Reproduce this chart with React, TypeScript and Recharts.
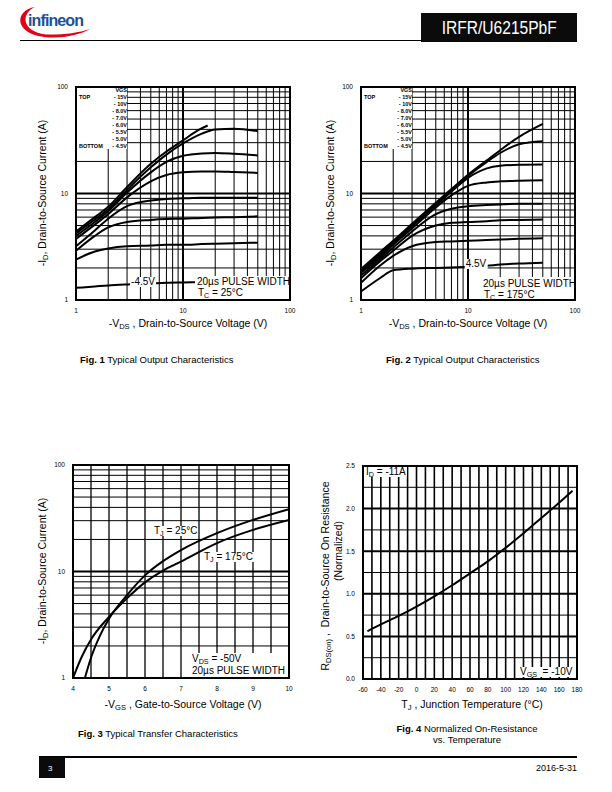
import React from "react";
import { LineChart, Line, XAxis, YAxis, ReferenceLine, ReferenceArea } from "recharts";

// Fig. 1 / Fig. 2 sample points of -VDS (V)
const vdsPoints = [1, 1.5, 2, 3, 5, 7, 10, 15, 20, 30, 50];
const vdsShort = [1, 1.5, 2, 3, 5, 7, 10, 14, 17];

// Fig. 1, Tc = 25°C, -ID (A) for each -VGS
const fig1Id15 = [4.4, 6.0, 7.5, 11.5, 19.0, 24.8, 31.5, 39.5, 43.5];
const fig1Id10 = [4.2, 5.7, 7.1, 10.8, 17.6, 23.2, 29.5, 36.5, 40.0, 40.5, 38.5];
const fig1Id8 = [4.0, 5.4, 6.8, 10.2, 15.8, 19.8, 22.6, 23.8, 24.0, 23.6, 22.8];
const fig1Id7 = [3.75, 5.1, 6.4, 9.2, 13.0, 14.9, 15.8, 16.1, 16.1, 15.9, 15.6];
const fig1Id6 = [3.2, 4.5, 5.8, 7.6, 8.6, 8.9, 9.0, 9.1, 9.1, 9.1, 9.1];
const fig1Id55 = [2.9, 4.0, 4.8, 5.4, 5.65, 5.75, 5.8, 5.9, 5.95, 6.0, 6.1];
const fig1Id5 = [2.4, 2.85, 3.05, 3.2, 3.25, 3.3, 3.3, 3.35, 3.38, 3.42, 3.45];
const fig1Id45 = [1.3, 1.34, 1.37, 1.4, 1.43, 1.45, 1.46, 1.47, 1.48, 1.49, 1.5];

// Fig. 2, Tc = 175°C, -ID (A) for each -VGS
const fig2Id15 = [1.95, 2.8, 3.6, 5.2, 8.2, 11.0, 15.0, 20.5, 25.5, 34.0, 45.0];
const fig2Id10 = [1.9, 2.7, 3.5, 5.0, 7.9, 10.7, 14.6, 19.8, 24.0, 29.0, 31.0];
const fig2Id8 = [1.85, 2.6, 3.4, 4.9, 7.7, 10.4, 14.0, 17.2, 18.2, 18.6, 18.7];
const fig2Id7 = [1.8, 2.5, 3.3, 4.7, 7.4, 9.6, 11.8, 12.7, 13.0, 13.2, 13.3];
const fig2Id6 = [1.7, 2.4, 3.1, 4.4, 6.4, 7.2, 7.6, 7.8, 7.9, 8.0, 8.0];
const fig2Id55 = [1.6, 2.3, 2.9, 4.0, 5.0, 5.3, 5.4, 5.5, 5.6, 5.65, 5.7];
const fig2Id5 = [1.45, 2.1, 2.6, 3.2, 3.5, 3.55, 3.6, 3.65, 3.7, 3.75, 3.8];
const fig2Id45 = [1.2, 1.6, 1.9, 1.97, 2.0, 2.02, 2.05, 2.1, 2.15, 2.2, 2.24];

// Fig. 3, transfer characteristics
const vgs25 = [4.33, 4.5, 4.75, 5, 5.5, 6, 6.5, 7, 8, 9, 10];
const idTj25 = [1.0, 1.55, 2.5, 3.6, 6.0, 9.2, 12.5, 15.9, 22.9, 30.5, 38.5];
const vgs175 = [4, 4.25, 4.5, 5, 5.5, 6, 6.5, 7, 8, 9, 10];
const idTj175 = [1.0, 1.6, 2.3, 3.75, 5.6, 7.9, 10.2, 12.4, 18.5, 24.6, 30.5];

// Fig. 4, normalized RDS(on) vs TJ
const tj = [-55, -40, -20, 0, 20, 40, 60, 80, 100, 120, 140, 160, 175];
const rdsNorm = [0.56, 0.64, 0.74, 0.85, 0.97, 1.1, 1.24, 1.38, 1.54, 1.71, 1.89, 2.07, 2.21];

// axes
const logTicks = [1, 10, 100];
const logMinor = [2, 3, 4, 5, 6, 7, 8, 9, 20, 30, 40, 50, 60, 70, 80, 90];
const logMajor = [10];
const vgsTicks = [4, 5, 6, 7, 8, 9, 10];
const vgsGrid = [4.5, 5, 5.5, 6, 6.5, 7, 7.5, 8, 8.5, 9, 9.5];
const tjTicks = [-60, -40, -20, 0, 20, 40, 60, 80, 100, 120, 140, 160, 180];
const tjGrid = [-50, -40, -30, -20, -10, 0, 10, 20, 30, 40, 50, 60, 70, 80, 90, 100, 110, 120, 130, 140, 150, 160, 170];
const rTicks = [0, 0.5, 1, 1.5, 2, 2.5];
const rMinor = [0.25, 0.75, 1.25, 1.75, 2.25];
const rMajor = [0.5, 1, 1.5, 2];

const vgsLegend = ["VGS", "- 15V", "- 10V", "- 8.0V", "- 7.0V", "- 6.0V", "- 5.5V", "- 5.0V", "- 4.5V"];

const pts = (xs: number[], ys: number[]) => xs.map((x, i) => ({ x, y: ys[i] }));

const fig1Curves = [
  pts(vdsShort, fig1Id15),
  pts(vdsPoints, fig1Id10),
  pts(vdsPoints, fig1Id8),
  pts(vdsPoints, fig1Id7),
  pts(vdsPoints, fig1Id6),
  pts(vdsPoints, fig1Id55),
  pts(vdsPoints, fig1Id5),
  pts(vdsPoints, fig1Id45),
];
const fig2Curves = [fig2Id15, fig2Id10, fig2Id8, fig2Id7, fig2Id6, fig2Id55, fig2Id5, fig2Id45].map((ys) => pts(vdsPoints, ys));
const fig3Curves = [pts(vgs25, idTj25), pts(vgs175, idTj175)];
const fig4Curves = [pts(tj, rdsNorm)];

const FONT = '"Liberation Sans", Arial, Helvetica, sans-serif';

type AxisSpec = {
  scale: "log" | "linear";
  domain: [number, number];
  ticks: number[];
  minor: number[];
  major: number[];
  minorWidth?: number;
  fmt?: (v: number) => string;
};

function Plot({ x0, y0, x1, y1, xs, ys, curves }: { x0: number; y0: number; x1: number; y1: number; xs: AxisSpec; ys: AxisSpec; curves: { x: number; y: number }[][] }) {
  const padL = 40, padT = 10, padR = 10, padB = 30, yw = 30, xh = 20;
  const tick = { fontSize: 6.5, fill: "#000", fontFamily: FONT };
  return (
    <div style={{ position: "absolute", left: x0 - padL, top: y0 - padT }}>
      <LineChart
        width={x1 - x0 + padL + padR}
        height={y1 - y0 + padT + padB}
        margin={{ top: padT, right: padR, bottom: padB - xh, left: padL - yw }}
      >
        <XAxis type="number" dataKey="x" scale={xs.scale} domain={xs.domain} ticks={xs.ticks} interval={0} allowDataOverflow
          tickLine={false} axisLine={false} tick={tick} height={xh} tickFormatter={xs.fmt} />
        <YAxis type="number" dataKey="y" scale={ys.scale} domain={ys.domain} ticks={ys.ticks} interval={0} allowDataOverflow
          tickLine={false} axisLine={false} tick={tick} width={yw} tickFormatter={ys.fmt} />
        {xs.minor.map((v) => <ReferenceLine key={"xm" + v} x={v} stroke="#000" strokeWidth={xs.minorWidth ?? 1} />)}
        {ys.minor.map((v) => <ReferenceLine key={"ym" + v} y={v} stroke="#000" strokeWidth={ys.minorWidth ?? 1} />)}
        {xs.major.map((v) => <ReferenceLine key={"xM" + v} x={v} stroke="#000" strokeWidth={2} />)}
        {ys.major.map((v) => <ReferenceLine key={"yM" + v} y={v} stroke="#000" strokeWidth={2} />)}
        <ReferenceArea x1={xs.domain[0]} x2={xs.domain[1]} y1={ys.domain[0]} y2={ys.domain[1]} fill="none" stroke="#000" strokeWidth={2} />
        {curves.map((c, i) => (
          <Line key={i} data={c} dataKey="y" type="monotone" stroke="#000" strokeWidth={2} dot={false} isAnimationActive={false} />
        ))}
      </LineChart>
    </div>
  );
}

function Txt({ x, y, size = 10, anchor = "start", bold, bg, rotate, children }: any) {
  const tx = anchor === "middle" ? "-50%" : anchor === "end" ? "-100%" : "0";
  return (
    <div
      style={{
        position: "absolute", left: x, top: y, fontSize: size, lineHeight: 1, whiteSpace: "nowrap",
        fontWeight: bold ? "bold" : "normal", background: bg ? "#fff" : undefined, padding: bg ? "0 1px" : 0,
        transform: `translate(${tx}, -50%)${rotate ? " rotate(-90deg)" : ""}`, transformOrigin: "center",
      }}
    >
      {children}
    </div>
  );
}

const Sub = ({ children }: any) => (
  <span style={{ fontSize: "0.72em", position: "relative", top: "0.25em" }}>{children}</span>
);

function Legend({ x, y }: { x: number; y: number }) {
  return (
    <div style={{ position: "absolute", left: x + 1, top: y + 1, width: 50, height: 61, background: "#fff" }}>
      {vgsLegend.map((t, i) => (
        <Txt key={t} x={50} y={3 + 7 * i} size={5.5} bold anchor="end">{t}</Txt>
      ))}
      <Txt x={2} y={10} size={5.5} bold>TOP</Txt>
      <Txt x={2} y={59} size={5.5} bold>BOTTOM</Txt>
    </div>
  );
}

const logAxis: AxisSpec = { scale: "log", domain: [1, 100], ticks: logTicks, minor: logMinor, major: logMajor };

export default function App() {
  return (
    <div style={{ position: "absolute", left: 0, top: 0, width: 612, height: 792, background: "#fff", fontFamily: FONT, color: "#000", overflow: "hidden" }}>
      {/* header */}
      <svg style={{ position: "absolute", left: 0, top: 0 }} width={100} height={45}>
        <path d="M 35 7 C 15 10, 13 33, 44 37 C 62 39, 80 35, 90 29 C 78 33, 62 35, 46 34.5 C 21 31.5, 21 13, 35 7 Z" fill="#e2001a" />
        <text x={28} y={26} fontSize={16} fill="#1b4f9c" fontFamily={FONT} fontWeight="bold" textLength={56}>infineon</text>
      </svg>
      <div style={{ position: "absolute", left: 20, top: 40, width: 402, height: 1.3, background: "#000" }} />
      <div style={{ position: "absolute", left: 421, top: 13, width: 156, height: 29, background: "#0b0b0b", color: "#fff", display: "flex", alignItems: "center", justifyContent: "center" }}>
        <span style={{ display: "inline-block", fontSize: 19, lineHeight: 1, transform: "scaleX(0.82)" }}>IRFR/U6215PbF</span>
      </div>

      {/* Fig. 1 */}
      <Plot x0={76} y0={87} x1={290} y1={300} xs={logAxis} ys={logAxis} curves={fig1Curves} />
      <Legend x={76} y={87} />
      <Txt x={143} y={282} anchor="middle" bg>-4.5V</Txt>
      <div style={{ position: "absolute", left: 195, top: 276, width: 93, height: 23, background: "#fff" }} />
      <Txt x={197} y={282}>20µs PULSE WIDTH</Txt>
      <Txt x={198} y={293}>T<Sub>C</Sub> = 25°C</Txt>
      <Txt x={42} y={193} size={10.5} anchor="middle" rotate>-I<Sub>D</Sub>, Drain-to-Source Current (A)</Txt>
      <Txt x={188} y={323} size={10.5} anchor="middle">-V<Sub>DS</Sub> , Drain-to-Source Voltage (V)</Txt>
      <Txt x={80} y={360} size={9.5}><b>Fig. 1</b> Typical Output Characteristics</Txt>

      {/* Fig. 2 */}
      <Plot x0={361} y0={87} x1={575} y1={300} xs={logAxis} ys={logAxis} curves={fig2Curves} />
      <Legend x={361} y={87} />
      <Txt x={476} y={264} anchor="middle" bg>4.5V</Txt>
      <div style={{ position: "absolute", left: 481, top: 277, width: 93, height: 22, background: "#fff" }} />
      <Txt x={483} y={284}>20µs PULSE WIDTH</Txt>
      <Txt x={484} y={295}>T<Sub>C</Sub> = 175°C</Txt>
      <Txt x={330} y={193} size={10.5} anchor="middle" rotate>-I<Sub>D</Sub>, Drain-to-Source Current (A)</Txt>
      <Txt x={468} y={323} size={10.5} anchor="middle">-V<Sub>DS</Sub> , Drain-to-Source Voltage (V)</Txt>
      <Txt x={386} y={360} size={9.5}><b>Fig. 2</b> Typical Output Characteristics</Txt>

      {/* Fig. 3 */}
      <Plot x0={73} y0={465} x1={289} y1={678}
        xs={{ scale: "linear", domain: [4, 10], ticks: vgsTicks, minor: vgsGrid, major: [], minorWidth: 1.3 }}
        ys={logAxis} curves={fig3Curves} />
      <Txt x={153} y={531} bg>T<Sub>J</Sub> = 25°C</Txt>
      <Txt x={203} y={557} bg>T<Sub>J</Sub> = 175°C</Txt>
      <div style={{ position: "absolute", left: 190, top: 653, width: 98, height: 24, background: "#fff" }} />
      <Txt x={192} y={659}>V<Sub>DS</Sub> = -50V</Txt>
      <Txt x={192} y={671}>20µs PULSE WIDTH</Txt>
      <Txt x={42} y={571} size={10.5} anchor="middle" rotate>-I<Sub>D</Sub>, Drain-to-Source Current (A)</Txt>
      <Txt x={183} y={704} size={10.5} anchor="middle">-V<Sub>GS</Sub> , Gate-to-Source Voltage (V)</Txt>
      <Txt x={78} y={734} size={9.5}><b>Fig. 3</b> Typical Transfer Characteristics</Txt>

      {/* Fig. 4 */}
      <Plot x0={363} y0={466} x1={577} y1={679}
        xs={{ scale: "linear", domain: [-60, 180], ticks: tjTicks, minor: tjGrid, major: [], minorWidth: 1.6 }}
        ys={{ scale: "linear", domain: [0, 2.5], ticks: rTicks, minor: rMinor, major: rMajor, fmt: (v) => v.toFixed(1) }}
        curves={fig4Curves} />
      <Txt x={365} y={472} bg>I<Sub>D</Sub> = -11A</Txt>
      <Txt x={519} y={672} bg>V<Sub>GS</Sub>&nbsp; = -10V</Txt>
      <Txt x={325} y={576} size={10.5} anchor="middle" rotate>R<Sub>DS(on)</Sub> ,&nbsp; Drain-to-Source On Resistance</Txt>
      <Txt x={338} y={551} size={10.5} anchor="middle" rotate>(Normalized)</Txt>
      <Txt x={472} y={704} size={10.5} anchor="middle">T<Sub>J</Sub> , Junction Temperature (°C)</Txt>
      <Txt x={467} y={729} size={9.5} anchor="middle"><b>Fig. 4</b> Normalized On-Resistance</Txt>
      <Txt x={467} y={740} size={9.5} anchor="middle">vs. Temperature</Txt>

      {/* footer */}
      <div style={{ position: "absolute", left: 39, top: 756, width: 538, height: 1.5, background: "#000" }} />
      <div style={{ position: "absolute", left: 39, top: 757, width: 26, height: 21, background: "#0b0b0b" }} />
      <Txt x={48} y={768}><span style={{ color: "#fff", fontSize: 8 }}>3</span></Txt>
      <Txt x={577} y={768} size={9} anchor="end">2016-5-31</Txt>
    </div>
  );
}
